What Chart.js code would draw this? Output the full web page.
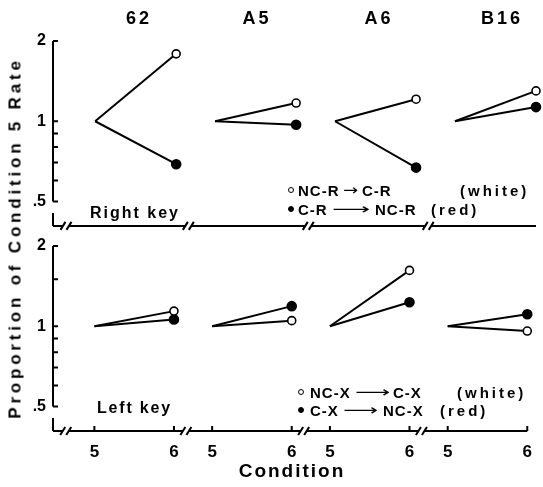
<!DOCTYPE html>
<html lang="en">
<head>
<meta charset="UTF-8">
<title>Proportion of Condition 5 Rate</title>
<script src="https://cdn.jsdelivr.net/npm/chart.js"></script>
<style>
  body { margin: 0; background: #fff; }
  #wrap { position: relative; width: 543px; height: 487px; font-family: "Liberation Sans", Arial, sans-serif; font-weight: bold; color: #000; }
  canvas { position: absolute; left: 0; }
  .t { position: absolute; white-space: nowrap; line-height: 1; transform: translate(-50%, -50%); }
  .l { position: absolute; white-space: nowrap; line-height: 1; transform: translateY(-50%); }
  .dot { position: absolute; width: 4px; height: 4px; border-radius: 50%; border: 1.5px solid #000; transform: translate(-50%, -50%); }
</style>
</head>
<body>
<div id="wrap">
  <canvas id="top" width="543" height="232" style="top:0"></canvas>
  <canvas id="bottom" width="543" height="282" style="top:205px"></canvas>
</div>

<script>
// data (proportion of condition 5 rate)
const subjects = ['62', 'A5', 'A6', 'B16'];
const conditions = [5, 6];
const baseline = 1;
const rightWhite = [1.79, 1.17, 1.21, 1.30];   // NC-R -> C-R
const rightRed   = [0.69, 0.97, 0.67, 1.13];   // C-R -> NC-R
const leftWhite  = [1.14, 1.05, 1.62, 0.96];   // NC-X -> C-X
const leftRed    = [1.06, 1.19, 1.23, 1.11];   // C-X -> NC-X
const yTicksTop    = [0.5, 0.6, 0.7, 0.8, 0.9, 1, 2];
const yTicksBottom = [0.5, 0.6, 0.7, 0.8, 0.9, 1, 1.5, 2];
const yTickText = { 0.5: '.5', 1: '1', 2: '2' };

const GROUP_STEP = 1.48;  // x units between groups (one condition step = 1)
const X_MIN = -0.52, X_MAX = 3 * GROUP_STEP + 1;
function xPos(g, c) { return g * GROUP_STEP + (c - conditions[0]); }

function makeSets(white, red) {
    const sets = [];
    subjects.forEach((s, g) => {
        [[white, false], [red, true]].forEach(([vals, filled]) => {
            sets.push({
                label: s + (filled ? ' red' : ' white'),
                data: [
                    { x: xPos(g, conditions[0]), y: baseline },
                    { x: xPos(g, conditions[1]), y: vals[g] }
                ],
                borderColor: '#000',
                borderWidth: 2,
                pointRadius: [0, filled ? 4.5 : 4],
                pointBackgroundColor: filled ? '#000' : '#fff',
                pointBorderColor: '#000',
                pointBorderWidth: 1.6,
                tension: 0,
                clip: false
            });
        });
    });
    return sets;
}

// axis lines with breaks, inward ticks
const axisPlugin = {
    id: 'brokenAxes',
    afterDraw(chart, args, opts) {
        const { ctx, chartArea: a, scales: { x, y } } = chart;
        ctx.save();
        ctx.strokeStyle = '#000';
        ctx.lineWidth = 2;
        ctx.beginPath();
        ctx.moveTo(a.left, y.getPixelForValue(2));
        ctx.lineTo(a.left, y.getPixelForValue(0.5));
        y.ticks.forEach(t => {
            const py = y.getPixelForValue(t.value);
            ctx.moveTo(a.left, py);
            ctx.lineTo(a.left + 5, py);
        });
        ctx.stroke();

        const ay = a.bottom;
        const breaks = [x.getPixelForValue(-0.36)];
        subjects.slice(0, -1).forEach((s, g) => breaks.push(x.getPixelForValue(xPos(g, 6) + 0.15)));
        ctx.beginPath();
        ctx.moveTo(a.left, ay - 13);
        ctx.lineTo(a.left, ay);
        let start = a.left;
        breaks.forEach(bx => {
            ctx.moveTo(start, ay);
            ctx.lineTo(bx - 3, ay);
            start = bx + 3;
            [bx - 3, bx + 3].forEach(sx => {
                ctx.moveTo(sx - 2.5, ay + 4);
                ctx.lineTo(sx + 2.5, ay - 4);
            });
        });
        ctx.moveTo(start, ay);
        ctx.lineTo(a.right, ay);
        if (opts.ticks) {
            subjects.forEach((s, g) => conditions.forEach(c => {
                const px = x.getPixelForValue(xPos(g, c));
                ctx.moveTo(px, ay);
                ctx.lineTo(px, ay - 5);
            }));
        }
        ctx.stroke();
        ctx.restore();
    }
};

const tickFont = { family: 'Liberation Sans', size: 16, weight: 'bold' };

function makeChart(id, white, red, yTicks, showX) {
    const xTickVals = [];
    subjects.forEach((s, g) => conditions.forEach(c => xTickVals.push(xPos(g, c))));
    return new Chart(document.getElementById(id), {
        type: 'line',
        data: { datasets: makeSets(white, red) },
        plugins: [axisPlugin],
        options: {
            responsive: false,
            animation: false,
            layout: { padding: { top: 41, right: 7, bottom: showX ? 0 : 6, left: 0 } },
            plugins: {
                legend: { display: false },
                tooltip: { enabled: false },
                brokenAxes: { ticks: showX }
            },
            scales: {
                x: {
                    type: 'linear',
                    min: X_MIN,
                    max: X_MAX,
                    display: showX,
                    grid: { display: false, drawTicks: false },
                    border: { display: false },
                    afterBuildTicks: s => { s.ticks = xTickVals.map(v => ({ value: v })); },
                    afterFit: s => { if (showX) s.height = 56; },
                    ticks: {
                        autoSkip: false,
                        maxRotation: 0,
                        padding: 11,
                        color: '#000',
                        font: { family: 'Liberation Sans', size: 17, weight: 'bold' },
                        callback: (v, i) => String(conditions[i % 2])
                    }
                },
                y: {
                    type: 'logarithmic',
                    min: 0.405,
                    max: 2,
                    grid: { display: false, drawTicks: false },
                    border: { display: false },
                    afterBuildTicks: s => { s.ticks = yTicks.map(v => ({ value: v })); },
                    afterFit: s => { s.width = 53; s.paddingTop = 0; s.paddingBottom = 0; },
                    ticks: {
                        autoSkip: false,
                        padding: 7,
                        color: '#000',
                        font: tickFont,
                        callback: v => yTickText[v] || ''
                    }
                }
            }
        }
    });
}

makeChart('top', rightWhite, rightRed, yTicksTop, false);
makeChart('bottom', leftWhite, leftRed, yTicksBottom, true);

// text labels
const wrap = document.getElementById('wrap');
function text(str, x, y, size, spacing, cls, extra) {
    const d = document.createElement('div');
    d.className = cls || 't';
    d.textContent = str;
    d.style.left = x + 'px';
    d.style.top = y + 'px';
    d.style.fontSize = size + 'px';
    d.style.letterSpacing = spacing + 'px';
    if (extra) Object.assign(d.style, extra);
    wrap.appendChild(d);
    return d;
}
// stretch a glyph (long arrows) to span x0..x1
function arrow(ch, x0, x1, y) {
    const d = text(ch, x0, y, 15, 0, 'l');
    d.style.fontFamily = '"DejaVu Sans", sans-serif';
    d.style.fontWeight = 'normal';
    d.style.transformOrigin = 'left center';
    const w = d.getBoundingClientRect().width;
    d.style.transform = 'translateY(-50%) scaleX(' + ((x1 - x0) / w).toFixed(3) + ')';
}
function dot(x, y, filled) {
    const d = document.createElement('div');
    d.className = 'dot';
    d.style.left = x + 'px';
    d.style.top = y + 'px';
    d.style.background = filled ? '#000' : '#fff';
    wrap.appendChild(d);
}

const titleX = [139, 257, 379, 502];
subjects.forEach((s, i) => text(s, titleX[i], 18, 18, 3));

text('Proportion of Condition 5 Rate', 15, 238, 17, 3.8, 't', { transform: 'translate(-50%, -50%) rotate(-90deg)' });
text('Condition', 292, 470, 19, 2);
text('Right key', 90, 213, 16, 2, 'l');
text('Left key', 97, 408, 16, 1.8, 'l');

// legend, right key
dot(291, 190, false);
text('NC-R', 298, 190, 15, 1, 'l');
arrow('\u2192', 343, 358, 190);
text('C-R', 362, 190, 15, 1, 'l');
text('(white)', 460, 190, 15, 3, 'l');
dot(291, 209, true);
text('C-R', 298, 209, 15, 1, 'l');
arrow('\u27F6', 332, 370, 209);
text('NC-R', 375, 209, 15, 1, 'l');
text('(red)', 431, 209, 15, 3, 'l');

// legend, left key
dot(301, 392, false);
text('NC-X', 310, 392, 15, 1, 'l');
arrow('\u27F6', 355, 390, 392);
text('C-X', 393, 392, 15, 1, 'l');
text('(white)', 457, 392, 15, 3, 'l');
dot(301, 410, true);
text('C-X', 310, 410, 15, 1, 'l');
arrow('\u27F6', 343, 378, 410);
text('NC-X', 383, 410, 15, 1, 'l');
text('(red)', 440, 410, 15, 3, 'l');
</script>
</body>
</html>
